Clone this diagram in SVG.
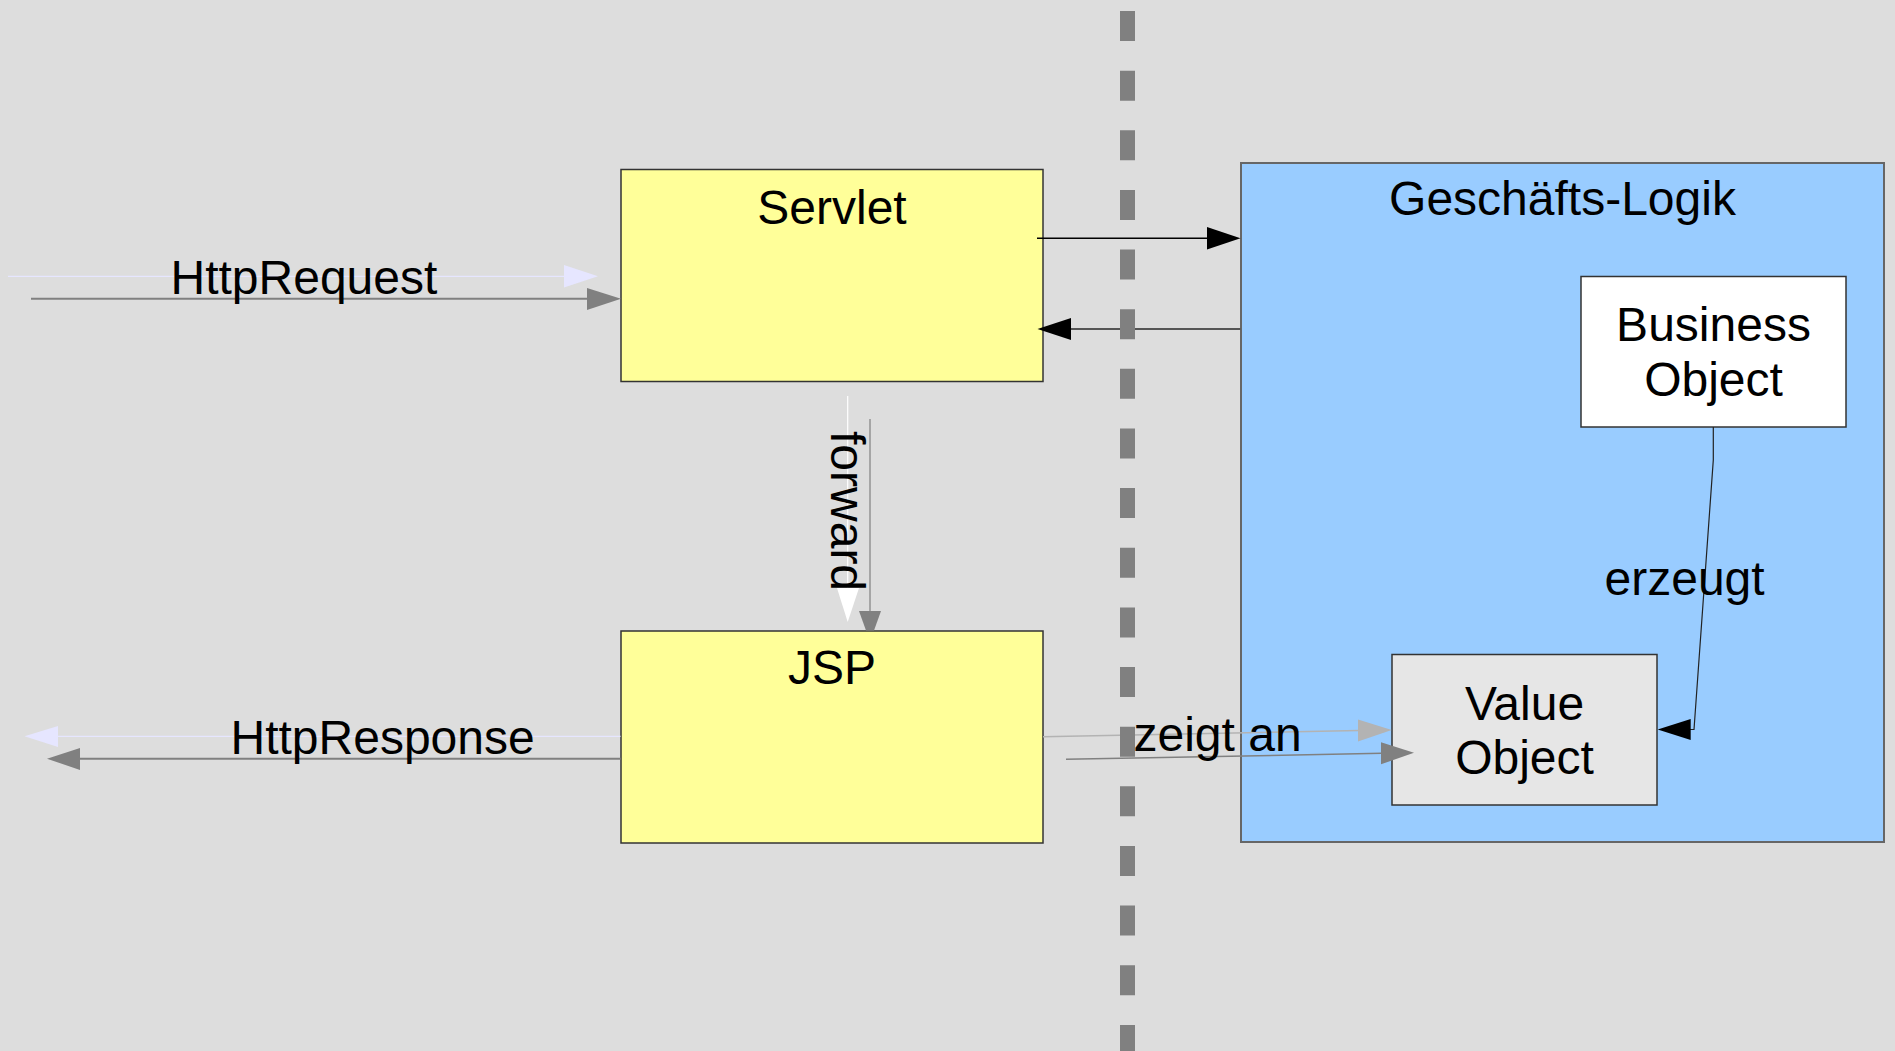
<svg xmlns="http://www.w3.org/2000/svg" width="1895" height="1051" viewBox="0 0 1895 1051">
<style>
text{font-family:"Liberation Sans",Arial,sans-serif;font-size:48px;fill:#000}
.c{text-anchor:middle}
.yel{fill:#ffff99;stroke:#333;stroke-width:1.5}
.blue{fill:#99ccff;stroke:#666;stroke-width:2}
.bo{fill:#ffffff;stroke:#333;stroke-width:1.5}
.vo{fill:#e6e6e6;stroke:#333;stroke-width:1.5}
.lav{stroke:#e6e6ff;stroke-width:1.2;fill:none}
.lavf{fill:#e6e6ff}
.gry{stroke:#808080;stroke-width:2;fill:none}
.gryf{fill:#808080}
.blk{stroke:#000;stroke-width:1.5;fill:none}
.blkf{fill:#000}
</style>
<rect width="1895" height="1051" fill="#dddddd"/>
<g id="geschaeftslogik">
<rect class="blue" x="1241" y="163" width="643" height="679"/>
<text class="c" x="1562.5" y="215">Geschäfts-Logik</text>
</g>
<g id="servlet">
<rect class="yel" x="621" y="169.5" width="422" height="212"/>
<text class="c" x="832" y="223.5">Servlet</text>
</g>
<g id="jsp">
<rect class="yel" x="621" y="631" width="422" height="212"/>
<text class="c" x="832" y="683.5">JSP</text>
</g>
<g id="businessobject">
<rect class="bo" x="1581" y="276.5" width="265" height="150.5"/>
<text class="c" x="1713.5" y="341">Business</text>
<text class="c" x="1713.5" y="396">Object</text>
</g>
<g id="valueobject">
<rect class="vo" x="1392" y="654.5" width="265" height="150.5"/>
<text class="c" x="1524.5" y="719.5">Value</text>
<text class="c" x="1524.5" y="774">Object</text>
</g>
<g id="connectors">
<line class="lav" x1="8" y1="276.3" x2="564" y2="276.3"/>
<polygon class="lavf" points="564,265 598,276.3 564,287.5"/>
<line class="gry" x1="31" y1="298.7" x2="588" y2="298.7"/>
<polygon class="gryf" points="587,288 621,298.7 587,310"/>
<text x="170.5" y="294">HttpRequest</text>
<line class="blk" x1="1037" y1="238.3" x2="1208" y2="238.3"/>
<polygon class="blkf" points="1207,227 1240.5,238.3 1207,249.5"/>
<line x1="1240.5" y1="329" x2="1070" y2="329" stroke="#555" stroke-width="1.8"/>
<polygon class="blkf" points="1071,318 1037.5,329 1071,340"/>
<line x1="847.7" y1="396" x2="847.7" y2="589" stroke="#ffffff" stroke-width="1.2"/>
<polygon fill="#ffffff" points="837,588 847.7,622 859,588"/>
<line x1="870" y1="419" x2="870" y2="612" stroke="#808080" stroke-width="1.2"/>
<polygon class="gryf" points="859,611 881,611 874,630.5 866,630.5"/>
<text transform="translate(831,431) rotate(90)">forward</text>
<line class="lav" x1="620.5" y1="736.3" x2="57" y2="736.3"/>
<polygon class="lavf" points="58,726 24.5,736.3 58,747"/>
<line class="gry" x1="620.5" y1="758.7" x2="79" y2="758.7"/>
<polygon class="gryf" points="80,748 47,758.7 80,770"/>
<text x="230.5" y="754">HttpResponse</text>
<line x1="1043" y1="736.7" x2="1359" y2="730.6" stroke="#b3b3b3" stroke-width="1.5"/>
<polygon fill="#b3b3b3" points="1358,719.6 1391.7,730 1358,741.6"/>
<line x1="1066" y1="759.3" x2="1382" y2="753.3" stroke="#808080" stroke-width="1.5"/>
<polygon class="gryf" points="1381,742.3 1414,752.7 1381,764.3"/>
<polyline points="1713.3,427 1713.3,460 1694,729.5 1689.7,729.5" fill="none" stroke="#222" stroke-width="1.2"/>
<polygon class="blkf" points="1690.7,719 1657.7,729.5 1690.7,740"/>
</g>
<g id="trennlinie">
<line x1="1127.5" y1="11" x2="1127.5" y2="1051" stroke="#808080" stroke-width="15" stroke-dasharray="30 29.64"/>
</g>
<g id="labels">
<text x="1133.5" y="751">zeigt an</text>
<text x="1604.5" y="595">erzeugt</text>
</g>
</svg>
